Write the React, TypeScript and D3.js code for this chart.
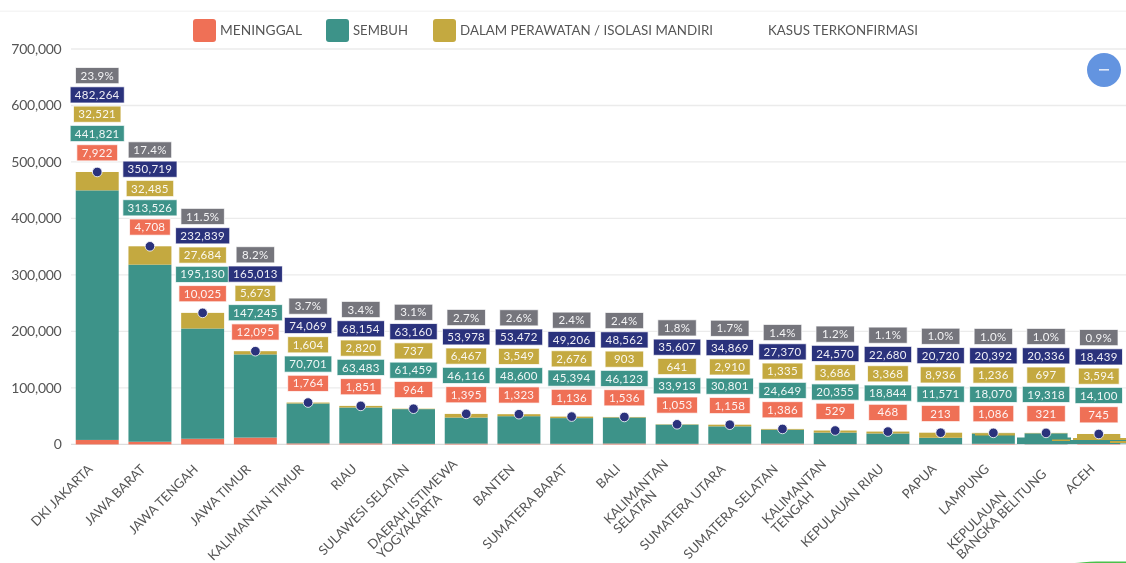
import React from "react";
import * as d3 from "d3";

const categories = [
  "DKI JAKARTA", "JAWA BARAT", "JAWA TENGAH", "JAWA TIMUR", "KALIMANTAN TIMUR", "RIAU", "SULAWESI SELATAN",
  "DAERAH ISTIMEWA\nYOGYAKARTA", "BANTEN", "SUMATERA BARAT", "BALI", "KALIMANTAN\nSELATAN", "SUMATERA UTARA",
  "SUMATERA SELATAN", "KALIMANTAN\nTENGAH", "KEPULAUAN RIAU", "PAPUA", "LAMPUNG", "KEPULAUAN\nBANGKA BELITUNG", "ACEH",
];
const meninggal = [7922, 4708, 10025, 12095, 1764, 1851, 964, 1395, 1323, 1136, 1536, 1053, 1158, 1386, 529, 468, 213, 1086, 321, 745];
const sembuh = [441821, 313526, 195130, 147245, 70701, 63483, 61459, 46116, 48600, 45394, 46123, 33913, 30801, 24649, 20355, 18844, 11571, 18070, 19318, 14100];
const perawatan = [32521, 32485, 27684, 5673, 1604, 2820, 737, 6467, 3549, 2676, 903, 641, 2910, 1335, 3686, 3368, 8936, 1236, 697, 3594];
const terkonfirmasi = [482264, 350719, 232839, 165013, 74069, 68154, 63160, 53978, 53472, 49206, 48562, 35607, 34869, 27370, 24570, 22680, 20720, 20392, 20336, 18439];
const persen = ["23.9%", "17.4%", "11.5%", "8.2%", "3.7%", "3.4%", "3.1%", "2.7%", "2.6%", "2.4%", "2.4%", "1.8%", "1.7%", "1.4%", "1.2%", "1.1%", "1.0%", "1.0%", "1.0%", "0.9%"];
const yTicks = [0, 100000, 200000, 300000, 400000, 500000, 600000, 700000];
const legendLabels = ["MENINGGAL", "SEMBUH", "DALAM PERAWATAN / ISOLASI MANDIRI", "KASUS TERKONFIRMASI"];

const RED = "#EF6F57", TEAL = "#3C9389", GOLD = "#C4A93F", NAVY = "#2A307C", GREY = "#74747C";
const legendLayout = [
  { color: RED, x: 193, tx: 220, w: 82 },
  { color: TEAL, x: 326, tx: 353, w: 55 },
  { color: GOLD, x: 433, tx: 460, w: 253 },
  { color: "none", x: 0, tx: 768, w: 150 },
];
// Compression smear visible over the last bars of the source image (not data).
const smear = [
  { x0: 975, x1: 1015, y0: 433.5, y1: 435.5, c: GOLD },
  { x0: 1017, x1: 1071, y0: 437.5, y1: 444, c: TEAL },
  { x0: 1052, x1: 1071, y0: 439.5, y1: 441, c: GOLD },
  { x0: 1077, x1: 1120, y0: 434, y1: 438, c: GOLD },
  { x0: 1073, x1: 1126, y0: 438, y1: 440, c: GOLD },
  { x0: 1070, x1: 1106, y0: 440, y1: 444, c: TEAL },
  { x0: 1106, x1: 1126, y0: 440, y1: 443.5, c: TEAL },
  { x0: 1110, x1: 1126, y0: 441, y1: 443, c: GOLD },
];
const FONT = "Lato, 'Noto Sans', sans-serif";

const x = d3.scaleBand<number>().domain(d3.range(categories.length)).range([71, 1125]).paddingInner(0.185).paddingOuter(0.09);
const y = d3.scaleLinear().domain([0, 700000]).range([444.4, 49]);
const fmt = d3.format(",");

function textWidth(s: string, size: number) {
  const c = document.createElement("canvas").getContext("2d")!;
  c.font = `${size}px Lato`;
  return c.measureText(s).width;
}

function Tag({ cx, cy, text, fill }: { cx: number; cy: number; text: string; fill: string }) {
  const w = Math.max(38.5, textWidth(text, 11.5) + 11.5);
  return (
    <g>
      <rect x={cx - w / 2} y={cy - 8} width={w} height={16.2} fill={fill} stroke="#fff" strokeOpacity={0.75} strokeWidth={1} />
      <text x={cx} y={cy + 4.2} textAnchor="middle" fontSize={11.5} letterSpacing={0.3} fill="#fff" fillOpacity={0.92}>{text}</text>
    </g>
  );
}

export default function App() {
  const cols = [meninggal, sembuh, perawatan];
  const colors = [RED, TEAL, GOLD];
  const stack = d3.stack<number>().keys(["0", "1", "2"]).value((i, k) => cols[+k][i])(d3.range(categories.length));
  return (
    <svg width={1126} height={563} style={{ position: "absolute", left: 0, top: 0, fontFamily: FONT, background: "#fff" }}>
      <defs>
        <filter id="soft" x="0" y="0" width="100%" height="100%"><feGaussianBlur stdDeviation="0.55" /></filter>
      </defs>
      <g filter="url(#soft)">
        <rect x={0} y={10.5} width={1126} height={1.5} fill="#f5f5f5" />
        {yTicks.map((t) => (
          <g key={t}>
            <line x1={71} x2={1126} y1={y(t)} y2={y(t)} stroke={t === 0 ? "#dcdcdc" : "#ebebeb"} strokeWidth={1.3} />
            <text x={61.5} y={y(t) + 5} textAnchor="end" fontSize={14} letterSpacing={-0.25} fill="#555">{fmt(t)}</text>
          </g>
        ))}
        {stack.map((s, k) => s.map((d, i) => (
          <rect key={`${k}-${i}`} x={x(i)} width={x.bandwidth()} y={y(d[1])} height={y(d[0]) - y(d[1])} fill={colors[k]} />
        )))}
        {smear.map((s, i) => (
          <rect key={i} x={s.x0} width={s.x1 - s.x0} y={s.y0} height={s.y1 - s.y0} fill={s.c} />
        ))}
        {terkonfirmasi.map((v, i) => {
          const cx = x(i)! + x.bandwidth() / 2;
          const cy = y(v);
          return (
            <g key={i}>
              <Tag cx={cx} cy={cy - 19.3} text={fmt(meninggal[i])} fill={RED} />
              <Tag cx={cx} cy={cy - 38.6} text={fmt(sembuh[i])} fill={TEAL} />
              <Tag cx={cx} cy={cy - 57.9} text={fmt(perawatan[i])} fill={GOLD} />
              <Tag cx={cx} cy={cy - 77.2} text={fmt(v)} fill={NAVY} />
              <Tag cx={cx} cy={cy - 96.5} text={persen[i]} fill={GREY} />
              <circle cx={cx} cy={cy} r={4.8} fill={NAVY} stroke="#fff" strokeOpacity={0.8} />
            </g>
          );
        })}
        {categories.map((c, i) => {
          const lines = c.split("\n");
          const size = 13.1;
          const maxW = Math.max(...lines.map((l) => textWidth(l, size)));
          const ax = x(i)! + x.bandwidth() / 2 - 6.5;
          const ay = 466.5;
          return (
            <g key={c} transform={`translate(${ax},${ay}) rotate(-45)`}>
              {lines.map((l, j) => (
                <text key={l} x={-maxW} y={(j - (lines.length - 1) / 2) * 13.5 + 4.5} fontSize={size} fill="#555">{l}</text>
              ))}
            </g>
          );
        })}
        {legendLabels.map((label, i) => {
          const l = legendLayout[i];
          return (
            <g key={label}>
              {l.color !== "none" && <rect x={l.x} y={19} width={23} height={23} rx={3} fill={l.color} />}
              <text x={l.tx} y={35} fontSize={13.8} textLength={l.w} lengthAdjust="spacingAndGlyphs" fill="#555">{label}</text>
            </g>
          );
        })}
        <circle cx={1104} cy={70} r={17} fill="#6494E0" />
        <rect x={1099} y={69} width={10} height={1.6} fill="#dfe8f8" />
        <ellipse cx={1112} cy={564} rx={40} ry={2.6} fill="#4CC04C" />
      </g>
    </svg>
  );
}
